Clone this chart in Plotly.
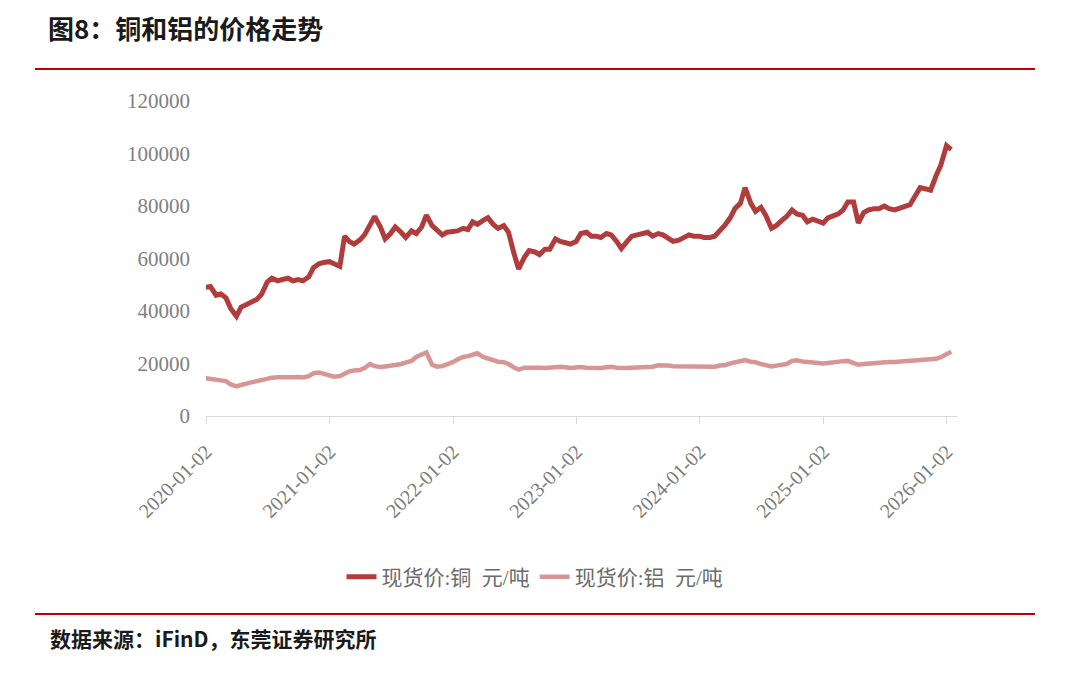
import pandas as pd
import plotly.graph_objects as go

# --- data (semi-monthly readings, 1st and 15th of each month) ---
dates = pd.date_range("2020-01-01", "2026-01-15", freq="SMS")

copper = [
    # 2020
    49000, 49300, 46000, 46500, 45000, 41000, 38000, 41500, 42500, 43500, 44500, 46500,
    51000, 52500, 51500, 52000, 52500, 51500, 52000, 51500, 53000, 56500, 58000, 58500,
    # 2021
    58800, 58000, 57000, 68500, 66500, 65500, 67000, 69000, 73000, 76000, 72000, 67500,
    69500, 72000, 70000, 68000, 70500, 69500, 72000, 76500, 72500, 71000, 69000, 70000,
    # 2022
    70500, 70500, 71500, 71000, 74000, 73000, 74500, 75500, 73000, 71500, 72500, 70000,
    62000, 56000, 60500, 63000, 62500, 61500, 63500, 63500, 67500, 66500, 66000, 65500,
    # 2023
    66500, 69500, 70000, 68500, 68500, 68000, 69500, 69000, 66500, 63800, 66500, 68500,
    69000, 69500, 70000, 68500, 69500, 69000, 67500, 66500, 67000, 68000, 69000, 68500,
    # 2024
    68500, 68000, 68000, 68500, 70500, 72500, 75500, 79000, 81000, 87000, 81000, 78000,
    79500, 76500, 71500, 72500, 74500, 76000, 78500, 77000, 76500, 74000, 75000, 74500,
    # 2025
    73500, 75500, 76500, 77000, 78500, 81500, 81500, 73500, 77500, 78500, 79000, 79000,
    80000, 79000, 78500, 79000, 80000, 80500, 84000, 87000, 86500, 86000, 91500, 95500,
    # 2026
    103000, 101500,
]

aluminum = [
    # 2020
    14400, 14200, 13800, 13600, 13300, 12000, 11300, 11800, 12500, 12800, 13300, 13700,
    14500, 14600, 14800, 14700, 14900, 14800, 14900, 14700, 15200, 16300, 16600, 16200,
    # 2021
    15500, 15000, 15200, 16200, 17000, 17300, 17500, 18300, 19800, 19000, 18700, 18900,
    19000, 19400, 19800, 20200, 21000, 22500, 23500, 24200, 19500, 18800, 19000, 19600,
    # 2022
    20500, 21500, 22500, 22800, 23200, 23900, 22500, 22000, 21000, 20700, 20500, 19800,
    18500, 17700, 18400, 18500, 18600, 18400, 18300, 18500, 18600, 18800, 18600, 18300,
    # 2023
    18500, 18700, 18400, 18300, 18500, 18300, 18600, 18800, 18400, 18200, 18300, 18400,
    18500, 18500, 18600, 18800, 19300, 19400, 19200, 19000, 19000, 19000, 18800, 18900,
    # 2024
    19000, 18800, 18700, 18800, 19200, 19300, 20000, 20500, 21000, 21300, 20700, 20500,
    19800, 19500, 18900, 19200, 19500, 19800, 21000, 21200, 20800, 20600, 20300, 20100,
    # 2025
    20000, 20200, 20300, 20600, 20900, 21000, 20200, 19500, 19800, 20000, 20200, 20500,
    20700, 20600, 20600, 20700, 20800, 20900, 21000, 21300, 21500, 21400, 21800, 22400,
    # 2026
    23500, 24500,
]

tick_dates = ["2020-01-02", "2021-01-02", "2022-01-02", "2023-01-02",
              "2024-01-02", "2025-01-02", "2026-01-02"]
y_ticks = [0, 20000, 40000, 60000, 80000, 100000, 120000]

names = ["现货价:铜\u00a0\u00a0元/吨", "现货价:铝\u00a0\u00a0元/吨"]
title_text = "图8：铜和铝的价格走势"
source_text = "数据来源：iFinD，东莞证券研究所"

# --- page geometry (pixels in the 1080x675 window; body has an 8px margin) ---
OFF = 8
W, H = 1080 - 2 * OFF, 675 - 2 * OFF
L, R, T, B = 206, 957, 101, 416


def px(x):
    return (x - L) / (R - L)


def py(y):
    return (B - y) / (B - T)


RED = "#c00000"
SERIF = "Liberation Serif, Noto Sans CJK SC"
CJK = "Noto Sans CJK SC"

fig = go.Figure()
fig.add_trace(go.Scatter(x=dates, y=copper, mode="lines", name=names[0],
                         line=dict(color="#b03c3c", width=5)))
fig.add_trace(go.Scatter(x=dates, y=aluminum, mode="lines", name=names[1],
                         line=dict(color="#d69696", width=4.5)))

fig.update_layout(
    width=W, height=H,
    paper_bgcolor="white", plot_bgcolor="white",
    margin=dict(l=L - OFF, r=W - (R - OFF), t=T - OFF, b=H - (B - OFF)),
    showlegend=True,
    legend=dict(orientation="h", x=px(535), y=py(577), xanchor="center", yanchor="middle",
                font=dict(family=SERIF, size=21, color="#6b6b6b"),
                itemwidth=30, tracegroupgap=0),
    xaxis=dict(
        type="date", range=["2020-01-02", "2026-02-01"],
        tickvals=tick_dates, ticktext=tick_dates, tickangle=-45,
        showgrid=False, showline=True, linecolor="#d9d9d9", linewidth=1,
        ticks="outside", ticklen=7, tickcolor="#d9d9d9",
        tickfont=dict(family=SERIF, size=20, color="#7a7a7a"),
        ticklabelstandoff=8,
        zeroline=False,
    ),
    yaxis=dict(
        range=[0, 120000], tickvals=y_ticks, tickformat="d",
        showgrid=False, showline=False, zeroline=False,
        tickfont=dict(family=SERIF, size=21, color="#808080"),
        ticklabelstandoff=15,
    ),
    shapes=[
        dict(type="line", xref="paper", yref="paper", x0=px(35), x1=px(1035),
             y0=py(69), y1=py(69), line=dict(color=RED, width=2)),
        dict(type="line", xref="paper", yref="paper", x0=px(35), x1=px(1035),
             y0=py(614), y1=py(614), line=dict(color=RED, width=2)),
    ],
    annotations=[
        dict(text="<b>" + title_text + "</b>", xref="paper", yref="paper",
             x=px(46), y=py(28), xanchor="left", yanchor="middle", showarrow=False,
             font=dict(family=CJK, size=26, color="#1a1a1a")),
        dict(text="<b>" + source_text + "</b>", xref="paper", yref="paper",
             x=px(48), y=py(638), xanchor="left", yanchor="middle", showarrow=False,
             font=dict(family=CJK, size=21, color="#1a1a1a")),
    ],
)

fig.write_html("out.html")
